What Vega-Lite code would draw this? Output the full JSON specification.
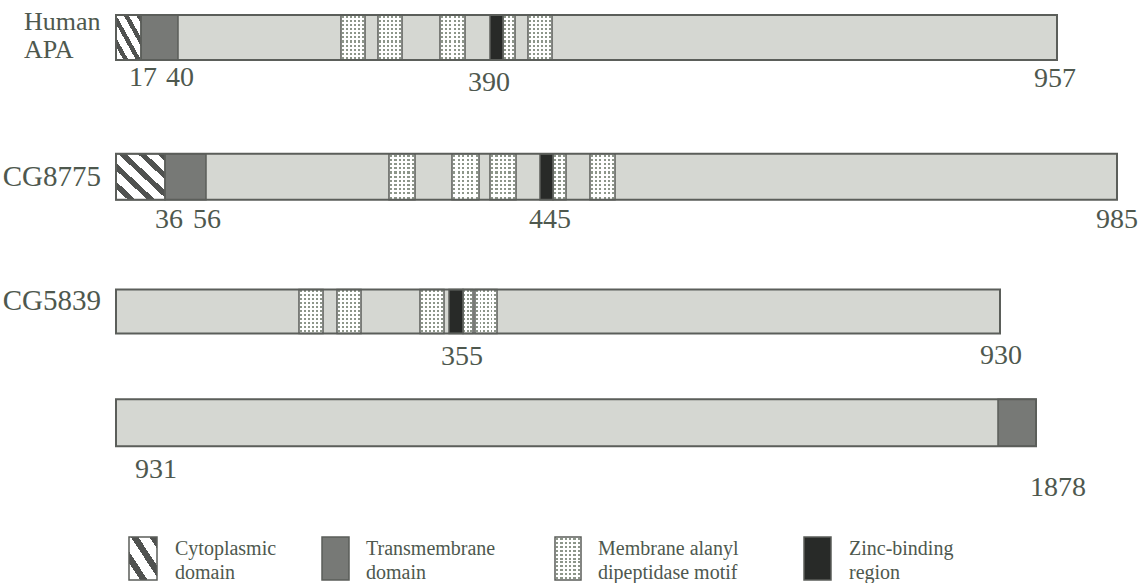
{
  "$schema": "https://vega.github.io/schema/vega-lite/v6.json",
  "width": 1140,
  "height": 583,
  "padding": 0,
  "autosize": {"type": "fit", "contains": "padding"},
  "background": "#ffffff",
  "config": {"view": {"stroke": null}, "text": {"font": "Liberation Serif", "color": "#4e584e"}},
  "datasets": {
    "tracks": [
      {"track": "Human APA", "top": 15, "bottom": 60},
      {"track": "CG8775", "top": 154, "bottom": 200},
      {"track": "CG5839", "top": 290, "bottom": 334},
      {"track": "CG5839 (cont.)", "top": 400, "bottom": 447},
      {"track": "legend", "top": 538, "bottom": 581}
    ],
    "segments": [
      {"track": "Human APA", "type": "chain", "start": 0, "end": 941},
      {"track": "Human APA", "type": "cyto", "start": 0, "end": 25},
      {"track": "Human APA", "type": "tm", "start": 25, "end": 62},
      {"track": "Human APA", "type": "motif", "start": 225, "end": 249},
      {"track": "Human APA", "type": "motif", "start": 262, "end": 286},
      {"track": "Human APA", "type": "motif", "start": 324, "end": 349},
      {"track": "Human APA", "type": "zinc", "start": 374, "end": 387},
      {"track": "Human APA", "type": "motif", "start": 387, "end": 399},
      {"track": "Human APA", "type": "motif", "start": 412, "end": 436},
      {"track": "CG8775", "type": "chain", "start": 0, "end": 1001},
      {"track": "CG8775", "type": "cyto", "start": 0, "end": 49},
      {"track": "CG8775", "type": "tm", "start": 49, "end": 90},
      {"track": "CG8775", "type": "motif", "start": 273, "end": 299},
      {"track": "CG8775", "type": "motif", "start": 336, "end": 363},
      {"track": "CG8775", "type": "motif", "start": 374, "end": 400},
      {"track": "CG8775", "type": "zinc", "start": 424, "end": 437},
      {"track": "CG8775", "type": "motif", "start": 437, "end": 450},
      {"track": "CG8775", "type": "motif", "start": 474, "end": 499},
      {"track": "CG5839", "type": "chain", "start": 0, "end": 884},
      {"track": "CG5839", "type": "motif", "start": 183, "end": 207},
      {"track": "CG5839", "type": "motif", "start": 221, "end": 245},
      {"track": "CG5839", "type": "motif", "start": 304, "end": 328},
      {"track": "CG5839", "type": "zinc", "start": 333, "end": 347},
      {"track": "CG5839", "type": "motif", "start": 347, "end": 357},
      {"track": "CG5839", "type": "motif", "start": 359, "end": 381},
      {"track": "CG5839 (cont.)", "type": "chain", "start": 0, "end": 920},
      {"track": "CG5839 (cont.)", "type": "tm", "start": 882, "end": 920},
      {"track": "legend", "type": "cyto", "start": 13, "end": 41},
      {"track": "legend", "type": "tm", "start": 206, "end": 233},
      {"track": "legend", "type": "motif", "start": 439, "end": 465},
      {"track": "legend", "type": "zinc", "start": 688, "end": 715}
    ],
    "numbers": [
      {"label": "17", "pos": 27, "lane": 86},
      {"label": "40", "pos": 64, "lane": 86},
      {"label": "390", "pos": 373, "lane": 91},
      {"label": "957", "pos": 939, "lane": 87},
      {"label": "36", "pos": 53, "lane": 228},
      {"label": "56", "pos": 91, "lane": 228},
      {"label": "445", "pos": 434, "lane": 228},
      {"label": "985", "pos": 1001, "lane": 228},
      {"label": "355", "pos": 346, "lane": 366},
      {"label": "930", "pos": 885, "lane": 365},
      {"label": "931", "pos": 40, "lane": 479},
      {"label": "1878", "pos": 942, "lane": 497}
    ],
    "names": [
      {"label": "Human\nAPA", "pos": -92, "lane": 30},
      {"label": "CG8775", "pos": -15, "lane": 186},
      {"label": "CG5839", "pos": -15, "lane": 311}
    ],
    "legendText": [
      {"label": "Cytoplasmic\ndomain", "pos": 59, "lane": 556},
      {"label": "Transmembrane\ndomain", "pos": 250, "lane": 556},
      {"label": "Membrane alanyl\ndipeptidase motif", "pos": 482, "lane": 556},
      {"label": "Zinc-binding\nregion", "pos": 733, "lane": 556}
    ]
  },
  "layer": [
    {
      "data": {"name": "segments"},
      "transform": [
        {"lookup": "track", "from": {"data": {"name": "tracks"}, "key": "track", "fields": ["top", "bottom"]}}
      ],
      "encoding": {
        "x": {"field": "start", "type": "quantitative", "scale": {"domain": [-116, 1024], "nice": false, "zero": false}, "axis": null},
        "x2": {"field": "end"},
        "y": {"field": "top", "type": "quantitative", "scale": {"domain": [0, 583], "reverse": true, "nice": false, "zero": false}, "axis": null},
        "y2": {"field": "bottom"}
      },
      "layer": [
        {"transform": [{"filter": "datum.type === 'chain'"}], "mark": {"type": "rect", "fill": "#d5d7d2"}},
        {"transform": [{"filter": "datum.type === 'tm'"}], "mark": {"type": "rect", "fill": "#777976"}},
        {"transform": [{"filter": "datum.type === 'zinc'"}], "mark": {"type": "rect", "fill": "#282a28"}},
        {"transform": [{"filter": "datum.type === 'cyto' && datum.track === 'Human APA'"}],
         "mark": {"type": "rect", "fill": {"gradient": "linear", "x1": 0, "y1": 1, "x2": 1, "y2": 0, "stops": [
           {"offset": 0, "color": "#ffffff"}, {"offset": 0.15, "color": "#ffffff"}, {"offset": 0.15, "color": "#505250"}, {"offset": 0.25, "color": "#505250"},
           {"offset": 0.25, "color": "#ffffff"}, {"offset": 0.4, "color": "#ffffff"}, {"offset": 0.4, "color": "#505250"}, {"offset": 0.5, "color": "#505250"},
           {"offset": 0.5, "color": "#ffffff"}, {"offset": 0.65, "color": "#ffffff"}, {"offset": 0.65, "color": "#505250"}, {"offset": 0.75, "color": "#505250"},
           {"offset": 0.75, "color": "#ffffff"}, {"offset": 0.9, "color": "#ffffff"}, {"offset": 0.9, "color": "#505250"}, {"offset": 1, "color": "#505250"}]}}},
        {"transform": [{"filter": "datum.type === 'cyto' && datum.track === 'CG8775'"}],
         "mark": {"type": "rect", "fill": {"gradient": "linear", "x1": 0, "y1": 1, "x2": 1, "y2": 0, "stops": [
           {"offset": 0, "color": "#ffffff"}, {"offset": 0.12, "color": "#ffffff"}, {"offset": 0.12, "color": "#505250"}, {"offset": 0.2, "color": "#505250"},
           {"offset": 0.2, "color": "#ffffff"}, {"offset": 0.32, "color": "#ffffff"}, {"offset": 0.32, "color": "#505250"}, {"offset": 0.4, "color": "#505250"},
           {"offset": 0.4, "color": "#ffffff"}, {"offset": 0.52, "color": "#ffffff"}, {"offset": 0.52, "color": "#505250"}, {"offset": 0.6, "color": "#505250"},
           {"offset": 0.6, "color": "#ffffff"}, {"offset": 0.72, "color": "#ffffff"}, {"offset": 0.72, "color": "#505250"}, {"offset": 0.8, "color": "#505250"},
           {"offset": 0.8, "color": "#ffffff"}, {"offset": 0.92, "color": "#ffffff"}, {"offset": 0.92, "color": "#505250"}, {"offset": 1, "color": "#505250"}]}}},
        {"transform": [{"filter": "datum.type === 'cyto' && datum.track === 'legend'"}],
         "mark": {"type": "rect", "fill": {"gradient": "linear", "x1": 0, "y1": 1, "x2": 1, "y2": 0, "stops": [
           {"offset": 0, "color": "#ffffff"}, {"offset": 0.2, "color": "#ffffff"}, {"offset": 0.2, "color": "#505250"}, {"offset": 0.3333, "color": "#505250"},
           {"offset": 0.3333, "color": "#ffffff"}, {"offset": 0.5333, "color": "#ffffff"}, {"offset": 0.5333, "color": "#505250"}, {"offset": 0.6667, "color": "#505250"},
           {"offset": 0.6667, "color": "#ffffff"}, {"offset": 0.8667, "color": "#ffffff"}, {"offset": 0.8667, "color": "#505250"}, {"offset": 1, "color": "#505250"}]}}},
        {"transform": [{"filter": "datum.type === 'motif' && datum.end - datum.start > 16"}],
         "mark": {"type": "rect", "fill": {"gradient": "linear", "x1": 0, "y1": 0, "x2": 1, "y2": 0, "stops": [
           {"offset": 0, "color": "#ffffff"}, {"offset": 0.0417, "color": "#ffffff"}, {"offset": 0.0417, "color": "#8d968a"}, {"offset": 0.125, "color": "#8d968a"},
           {"offset": 0.125, "color": "#ffffff"}, {"offset": 0.2083, "color": "#ffffff"}, {"offset": 0.2083, "color": "#8d968a"}, {"offset": 0.2917, "color": "#8d968a"},
           {"offset": 0.2917, "color": "#ffffff"}, {"offset": 0.375, "color": "#ffffff"}, {"offset": 0.375, "color": "#8d968a"}, {"offset": 0.4583, "color": "#8d968a"},
           {"offset": 0.4583, "color": "#ffffff"}, {"offset": 0.5417, "color": "#ffffff"}, {"offset": 0.5417, "color": "#8d968a"}, {"offset": 0.625, "color": "#8d968a"},
           {"offset": 0.625, "color": "#ffffff"}, {"offset": 0.7083, "color": "#ffffff"}, {"offset": 0.7083, "color": "#8d968a"}, {"offset": 0.7917, "color": "#8d968a"},
           {"offset": 0.7917, "color": "#ffffff"}, {"offset": 0.875, "color": "#ffffff"}, {"offset": 0.875, "color": "#8d968a"}, {"offset": 0.9583, "color": "#8d968a"},
           {"offset": 0.9583, "color": "#ffffff"}, {"offset": 1, "color": "#ffffff"}]}}},
        {"transform": [{"filter": "datum.type === 'motif' && datum.end - datum.start <= 16"}],
         "mark": {"type": "rect", "fill": {"gradient": "linear", "x1": 0, "y1": 0, "x2": 1, "y2": 0, "stops": [
           {"offset": 0, "color": "#ffffff"}, {"offset": 0.0833, "color": "#ffffff"}, {"offset": 0.0833, "color": "#8d968a"}, {"offset": 0.25, "color": "#8d968a"},
           {"offset": 0.25, "color": "#ffffff"}, {"offset": 0.4167, "color": "#ffffff"}, {"offset": 0.4167, "color": "#8d968a"}, {"offset": 0.5833, "color": "#8d968a"},
           {"offset": 0.5833, "color": "#ffffff"}, {"offset": 0.75, "color": "#ffffff"}, {"offset": 0.75, "color": "#8d968a"}, {"offset": 0.9167, "color": "#8d968a"},
           {"offset": 0.9167, "color": "#ffffff"}, {"offset": 1, "color": "#ffffff"}]}}},
        {"transform": [{"filter": "datum.type === 'motif'"}],
         "mark": {"type": "rect", "fill": {"gradient": "linear", "x1": 0, "y1": 0, "x2": 0, "y2": 1, "stops": [
           {"offset": 0, "color": "#ffffff"}, {"offset": 0.0227, "color": "#ffffff"}, {"offset": 0.0227, "color": "rgba(255,255,255,0)"}, {"offset": 0.0682, "color": "rgba(255,255,255,0)"},
           {"offset": 0.0682, "color": "#ffffff"}, {"offset": 0.1136, "color": "#ffffff"}, {"offset": 0.1136, "color": "rgba(255,255,255,0)"}, {"offset": 0.1591, "color": "rgba(255,255,255,0)"},
           {"offset": 0.1591, "color": "#ffffff"}, {"offset": 0.2045, "color": "#ffffff"}, {"offset": 0.2045, "color": "rgba(255,255,255,0)"}, {"offset": 0.25, "color": "rgba(255,255,255,0)"},
           {"offset": 0.25, "color": "#ffffff"}, {"offset": 0.2955, "color": "#ffffff"}, {"offset": 0.2955, "color": "rgba(255,255,255,0)"}, {"offset": 0.3409, "color": "rgba(255,255,255,0)"},
           {"offset": 0.3409, "color": "#ffffff"}, {"offset": 0.3864, "color": "#ffffff"}, {"offset": 0.3864, "color": "rgba(255,255,255,0)"}, {"offset": 0.4318, "color": "rgba(255,255,255,0)"},
           {"offset": 0.4318, "color": "#ffffff"}, {"offset": 0.4773, "color": "#ffffff"}, {"offset": 0.4773, "color": "rgba(255,255,255,0)"}, {"offset": 0.5227, "color": "rgba(255,255,255,0)"},
           {"offset": 0.5227, "color": "#ffffff"}, {"offset": 0.5682, "color": "#ffffff"}, {"offset": 0.5682, "color": "rgba(255,255,255,0)"}, {"offset": 0.6136, "color": "rgba(255,255,255,0)"},
           {"offset": 0.6136, "color": "#ffffff"}, {"offset": 0.6591, "color": "#ffffff"}, {"offset": 0.6591, "color": "rgba(255,255,255,0)"}, {"offset": 0.7045, "color": "rgba(255,255,255,0)"},
           {"offset": 0.7045, "color": "#ffffff"}, {"offset": 0.75, "color": "#ffffff"}, {"offset": 0.75, "color": "rgba(255,255,255,0)"}, {"offset": 0.7955, "color": "rgba(255,255,255,0)"},
           {"offset": 0.7955, "color": "#ffffff"}, {"offset": 0.8409, "color": "#ffffff"}, {"offset": 0.8409, "color": "rgba(255,255,255,0)"}, {"offset": 0.8864, "color": "rgba(255,255,255,0)"},
           {"offset": 0.8864, "color": "#ffffff"}, {"offset": 0.9318, "color": "#ffffff"}, {"offset": 0.9318, "color": "rgba(255,255,255,0)"}, {"offset": 0.9773, "color": "rgba(255,255,255,0)"},
           {"offset": 0.9773, "color": "#ffffff"}, {"offset": 1, "color": "#ffffff"}]}}},
        {"transform": [{"filter": "datum.type !== 'chain'"}], "mark": {"type": "rect", "fillOpacity": 0, "stroke": "#5b5e5a", "strokeWidth": 1.5}},
        {"transform": [{"filter": "datum.type === 'chain'"}], "mark": {"type": "rect", "fillOpacity": 0, "stroke": "#5b5e5a", "strokeWidth": 2}}
      ]
    },
    {
      "data": {"name": "numbers"},
      "mark": {"type": "text", "align": "center", "baseline": "alphabetic", "fontSize": 28},
      "encoding": {
        "x": {"field": "pos", "type": "quantitative", "scale": {"domain": [-116, 1024], "nice": false, "zero": false}, "axis": null},
        "y": {"field": "lane", "type": "quantitative", "scale": {"domain": [0, 583], "reverse": true, "nice": false, "zero": false}, "axis": null},
        "text": {"field": "label"}
      }
    },
    {
      "data": {"name": "names"},
      "transform": [{"filter": "indexof(datum.label, 'Human') === 0"}],
      "mark": {"type": "text", "align": "left", "baseline": "alphabetic", "fontSize": 26, "lineBreak": "\n", "lineHeight": 28},
      "encoding": {
        "x": {"field": "pos", "type": "quantitative", "scale": {"domain": [-116, 1024], "nice": false, "zero": false}, "axis": null},
        "y": {"field": "lane", "type": "quantitative", "scale": {"domain": [0, 583], "reverse": true, "nice": false, "zero": false}, "axis": null},
        "text": {"field": "label"}
      }
    },
    {
      "data": {"name": "names"},
      "transform": [{"filter": "indexof(datum.label, 'Human') !== 0"}],
      "mark": {"type": "text", "align": "right", "baseline": "alphabetic", "fontSize": 29},
      "encoding": {
        "x": {"field": "pos", "type": "quantitative", "scale": {"domain": [-116, 1024], "nice": false, "zero": false}, "axis": null},
        "y": {"field": "lane", "type": "quantitative", "scale": {"domain": [0, 583], "reverse": true, "nice": false, "zero": false}, "axis": null},
        "text": {"field": "label"}
      }
    },
    {
      "data": {"name": "legendText"},
      "mark": {"type": "text", "align": "left", "baseline": "alphabetic", "fontSize": 20, "lineBreak": "\n", "lineHeight": 24},
      "encoding": {
        "x": {"field": "pos", "type": "quantitative", "scale": {"domain": [-116, 1024], "nice": false, "zero": false}, "axis": null},
        "y": {"field": "lane", "type": "quantitative", "scale": {"domain": [0, 583], "reverse": true, "nice": false, "zero": false}, "axis": null},
        "text": {"field": "label"}
      }
    }
  ]
}
